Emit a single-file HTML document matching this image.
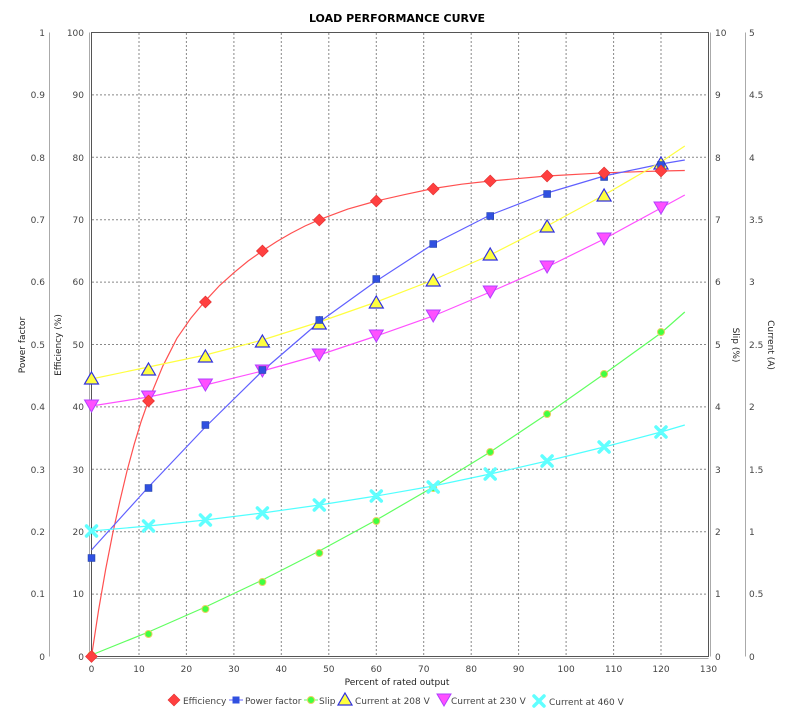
<!DOCTYPE html>
<html><head><meta charset="utf-8"><style>
body{margin:0;background:#fff;}
svg{display:block;font-family:"DejaVu Sans","Liberation Sans",sans-serif;}
.t{font-size:9px;fill:#444;}
</style></head><body>
<svg width="790" height="717" viewBox="0 0 790 717" xmlns="http://www.w3.org/2000/svg">
<defs>
<symbol id="dia" viewBox="-6 -6 12 12" overflow="visible"><path d="M0,-6 L6,0 L0,6 L-6,0Z" fill="#ff4040" stroke="#e03030" stroke-width="0.6"/></symbol>
</defs>
<text x="397" y="22" text-anchor="middle" font-size="11" font-weight="bold" fill="#000">LOAD PERFORMANCE CURVE</text>
<rect x="91.5" y="32.5" width="617" height="624" fill="#fff" stroke="#555" stroke-width="1"/>
<g stroke="#888" stroke-dasharray="2,2" stroke-width="1">
<line x1="139" y1="33" x2="139" y2="656"/><line x1="186.4" y1="33" x2="186.4" y2="656"/><line x1="233.9" y1="33" x2="233.9" y2="656"/><line x1="281.3" y1="33" x2="281.3" y2="656"/><line x1="328.8" y1="33" x2="328.8" y2="656"/><line x1="376.3" y1="33" x2="376.3" y2="656"/><line x1="423.7" y1="33" x2="423.7" y2="656"/><line x1="471.2" y1="33" x2="471.2" y2="656"/><line x1="518.6" y1="33" x2="518.6" y2="656"/><line x1="566.1" y1="33" x2="566.1" y2="656"/><line x1="613.6" y1="33" x2="613.6" y2="656"/><line x1="661" y1="33" x2="661" y2="656"/>
<line x1="92" y1="94.9" x2="708" y2="94.9"/><line x1="92" y1="157.3" x2="708" y2="157.3"/><line x1="92" y1="219.7" x2="708" y2="219.7"/><line x1="92" y1="282.1" x2="708" y2="282.1"/><line x1="92" y1="344.5" x2="708" y2="344.5"/><line x1="92" y1="406.9" x2="708" y2="406.9"/><line x1="92" y1="469.3" x2="708" y2="469.3"/><line x1="92" y1="531.7" x2="708" y2="531.7"/><line x1="92" y1="594.1" x2="708" y2="594.1"/>
</g>
<g stroke="#aaa" fill="none">
<line x1="49.5" y1="32.5" x2="49.5" y2="656.5"/><line x1="89.5" y1="32.5" x2="89.5" y2="656.5"/>
<line x1="710.5" y1="32.5" x2="710.5" y2="656.5"/><line x1="745.5" y1="32.5" x2="745.5" y2="656.5"/>
<line x1="91.5" y1="658.5" x2="708.5" y2="658.5"/>
</g>
<g class="t" text-anchor="end">
<text x="45" y="36">1</text><text x="45" y="98">0.9</text><text x="45" y="161">0.8</text><text x="45" y="223">0.7</text><text x="45" y="285">0.6</text><text x="45" y="348">0.5</text><text x="45" y="410">0.4</text><text x="45" y="473">0.3</text><text x="45" y="535">0.2</text><text x="45" y="597">0.1</text><text x="45" y="660">0</text>
<text x="84" y="36">100</text><text x="84" y="98">90</text><text x="84" y="161">80</text><text x="84" y="223">70</text><text x="84" y="285">60</text><text x="84" y="348">50</text><text x="84" y="410">40</text><text x="84" y="473">30</text><text x="84" y="535">20</text><text x="84" y="597">10</text><text x="84" y="660">0</text>
</g>
<g class="t">
<text x="715" y="36">10</text><text x="715" y="98">9</text><text x="715" y="161">8</text><text x="715" y="223">7</text><text x="715" y="285">6</text><text x="715" y="348">5</text><text x="715" y="410">4</text><text x="715" y="473">3</text><text x="715" y="535">2</text><text x="715" y="597">1</text><text x="715" y="660">0</text>
<text x="749" y="36">5</text><text x="749" y="161">4</text><text x="749" y="98">4.5</text><text x="749" y="223">3.5</text><text x="749" y="285">3</text><text x="749" y="348">2.5</text><text x="749" y="410">2</text><text x="749" y="473">1.5</text><text x="749" y="535">1</text><text x="749" y="597">0.5</text><text x="749" y="660">0</text>
</g>
<g class="t" text-anchor="middle">
<text x="91.5" y="672">0</text><text x="139" y="672">10</text><text x="186.4" y="672">20</text><text x="233.9" y="672">30</text><text x="281.3" y="672">40</text><text x="328.8" y="672">50</text><text x="376.3" y="672">60</text><text x="423.7" y="672">70</text><text x="471.2" y="672">80</text><text x="518.6" y="672">90</text><text x="566.1" y="672">100</text><text x="613.6" y="672">110</text><text x="661" y="672">120</text><text x="708.5" y="672">130</text>
<text x="397" y="685" fill="#222">Percent of rated output</text>
<text transform="translate(25,345) rotate(-90)" fill="#222">Power factor</text>
<text transform="translate(61,345) rotate(-90)" fill="#222">Efficiency (%)</text>
<text transform="translate(733,345) rotate(90)" fill="#222">Slip (%)</text>
<text transform="translate(768,345) rotate(90)" fill="#222">Current (A)</text>
</g>
<g fill="none" stroke-width="1.2">
<polyline stroke="#ff5050" points="91.5,656.5 98.6,610 105.7,569.1 112.8,533 120,500.5 127,471 134.2,444.3 141.3,421 148.5,400.7 162.7,366.3 176.9,338.3 191.2,317.7 205.4,300.8 219.6,285.5 233.9,272.7 248.1,261 262.4,250.9 276.6,241.6 290.8,233.4 305,226 319.3,219.7 347.8,209.1 376.3,201 404.7,194.6 433.2,188.5 461.7,184.2 490.2,181 547.1,176 604.1,172.8 661,171 684.8,170.5"/>
<polyline stroke="#6060ff" points="91.5,550 148.5,487 205.4,427 262.4,371 319.3,322 376.3,281 433.2,244 490.2,215 547.1,193 604.1,176 661,164 684.8,160"/>
<polyline stroke="#60ff60" points="91.5,655 148.5,632 205.4,607 262.4,580 319.3,551 376.3,520 433.2,487 490.2,452 547.1,414 604.1,374 661,333 684.8,312"/>
<polyline stroke="#ffff40" points="91.5,379 148.5,367 205.4,355 262.4,340 319.3,322 376.3,302 433.2,280 490.2,255 547.1,226 604.1,195 661,162 684.8,146"/>
<polyline stroke="#ff50ff" points="91.5,406 148.5,397 205.4,385 262.4,371 319.3,355 376.3,336 433.2,316 490.2,292 547.1,267 604.1,239 661,208 684.8,195"/>
<polyline stroke="#50ffff" points="91.5,531 148.5,526 205.4,520 262.4,513 319.3,505 376.3,496 433.2,486 490.2,474 547.1,461 604.1,447 661,432 684.8,425"/>
</g>
<g fill="#40ff40" stroke="#e8d060" stroke-width="1">
<circle cx="91.5" cy="655" r="3.5"/><circle cx="148.5" cy="634" r="3.5"/><circle cx="205.4" cy="609" r="3.5"/><circle cx="262.4" cy="582" r="3.5"/><circle cx="319.3" cy="553" r="3.5"/><circle cx="376.3" cy="521" r="3.5"/><circle cx="433.2" cy="488" r="3.5"/><circle cx="490.2" cy="452" r="3.5"/><circle cx="547.1" cy="414" r="3.5"/><circle cx="604.1" cy="374" r="3.5"/><circle cx="661" cy="332" r="3.5"/>
</g>
<g fill="#ffff40" stroke="#3030e0" stroke-width="1.2">
<path d="M91.5,372l7,12h-14z"/><path d="M148.5,363l7,12h-14z"/><path d="M205.4,350l7,12h-14z"/><path d="M262.4,335l7,12h-14z"/><path d="M319.3,317l7,12h-14z"/><path d="M376.3,296l7,12h-14z"/><path d="M433.2,274l7,12h-14z"/><path d="M490.2,248l7,12h-14z"/><path d="M547.1,220l7,12h-14z"/><path d="M604.1,189l7,12h-14z"/><path d="M661,157l7,12h-14z"/>
</g>
<g fill="#ff50ff" stroke="#b040ff" stroke-width="1">
<path d="M84.5,400h14l-7,12z"/><path d="M141.5,391h14l-7,12z"/><path d="M198.4,379h14l-7,12z"/><path d="M255.4,365h14l-7,12z"/><path d="M312.3,349h14l-7,12z"/><path d="M369.3,330h14l-7,12z"/><path d="M426.2,310h14l-7,12z"/><path d="M483.2,286h14l-7,12z"/><path d="M540.1,261h14l-7,12z"/><path d="M597.1,233h14l-7,12z"/><path d="M654,202h14l-7,12z"/>
</g>
<g stroke="#60ffff" stroke-width="3.5" stroke-linecap="round" fill="none">
<path d="M86.5,526l10,10m0,-10l-10,10"/><path d="M143.5,521l10,10m0,-10l-10,10"/><path d="M200.4,515l10,10m0,-10l-10,10"/><path d="M257.4,508l10,10m0,-10l-10,10"/><path d="M314.3,500l10,10m0,-10l-10,10"/><path d="M371.3,491l10,10m0,-10l-10,10"/><path d="M428.2,482l10,10m0,-10l-10,10"/><path d="M485.2,469l10,10m0,-10l-10,10"/><path d="M542.1,456l10,10m0,-10l-10,10"/><path d="M599.1,442l10,10m0,-10l-10,10"/><path d="M656,427l10,10m0,-10l-10,10"/>
</g>
<g fill="#3050e0" stroke="#2040a0" stroke-width="0.5">
<rect x="88" y="554.5" width="7" height="7"/><rect x="145" y="484.5" width="7" height="7"/><rect x="201.9" y="421.5" width="7" height="7"/><rect x="258.9" y="366.5" width="7" height="7"/><rect x="315.8" y="316.5" width="7" height="7"/><rect x="372.8" y="275.5" width="7" height="7"/><rect x="429.7" y="240.5" width="7" height="7"/><rect x="486.7" y="212.5" width="7" height="7"/><rect x="543.6" y="190.5" width="7" height="7"/><rect x="600.6" y="173.5" width="7" height="7"/><rect x="657.5" y="161.5" width="7" height="7"/>
</g>
<g>
<use href="#dia" x="85.5" y="650.5" width="12" height="12"/><use href="#dia" x="142.5" y="395" width="12" height="12"/><use href="#dia" x="199.4" y="296" width="12" height="12"/><use href="#dia" x="256.4" y="245" width="12" height="12"/><use href="#dia" x="313.3" y="214" width="12" height="12"/><use href="#dia" x="370.3" y="195" width="12" height="12"/><use href="#dia" x="427.2" y="183" width="12" height="12"/><use href="#dia" x="484.2" y="175" width="12" height="12"/><use href="#dia" x="541.1" y="170" width="12" height="12"/><use href="#dia" x="598.1" y="167" width="12" height="12"/><use href="#dia" x="655" y="165" width="12" height="12"/>
</g>
<g class="t" fill="#333">
<use href="#dia" x="168" y="694" width="12" height="12"/><text x="183" y="704">Efficiency</text>
<line x1="229" y1="700" x2="243" y2="700" stroke="#6060ff"/><rect x="232.5" y="696.5" width="7" height="7" fill="#3050e0"/><text x="245" y="704">Power factor</text>
<line x1="304" y1="700" x2="318" y2="700" stroke="#60ff60"/><circle cx="311" cy="700" r="3.5" fill="#40ff40" stroke="#e8d060"/><text x="319" y="704">Slip</text>
<path d="M345,693l7,12h-14z" fill="#ffff40" stroke="#3030e0" stroke-width="1.2"/><text x="355" y="704">Current at 208 V</text>
<path d="M437,694h14l-7,12z" fill="#ff50ff" stroke="#b040ff"/><text x="451" y="704">Current at 230 V</text>
<path d="M534,696l10,10m0,-10l-10,10" stroke="#60ffff" stroke-width="3.5" stroke-linecap="round"/><text x="549" y="705">Current at 460 V</text>
</g>
</svg>
</body></html>
